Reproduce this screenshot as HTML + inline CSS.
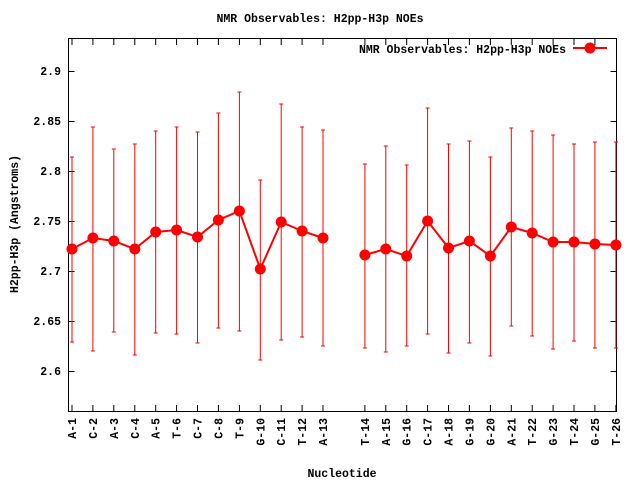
<!DOCTYPE html>
<html><head><meta charset="utf-8"><style>
html,body{margin:0;padding:0;background:#fff;}
svg text{font-family:"Liberation Mono",monospace;font-weight:bold;font-size:11.5px;fill:#000;}
</style></head><body>
<svg width="640" height="480" viewBox="0 0 640 480" xmlns="http://www.w3.org/2000/svg">
<rect x="0" y="0" width="640" height="480" fill="#fff"/>
<rect x="68.5" y="38.5" width="548" height="373" fill="none" stroke="#000" stroke-width="1"/>
<g stroke="#000" stroke-width="1">
<path d="M68.5 371.5h6M68.5 321.5h6M68.5 271.5h6M68.5 221.5h6M68.5 171.5h6M68.5 121.5h6M68.5 71.5h6M616.5 371.5h-6M616.5 321.5h-6M616.5 271.5h-6M616.5 221.5h-6M616.5 171.5h-6M616.5 121.5h-6M616.5 71.5h-6"/>
<path d="M72 411v-6M92.9 411v-6M113.8 411v-6M134.8 411v-6M155.7 411v-6M176.6 411v-6M197.5 411v-6M218.4 411v-6M239.4 411v-6M260.3 411v-6M281.2 411v-6M302.1 411v-6M323 411v-6M364.9 411v-6M385.8 411v-6M406.7 411v-6M427.6 411v-6M448.5 411v-6M469.4 411v-6M490.4 411v-6M511.3 411v-6M532.2 411v-6M553.1 411v-6M574 411v-6M594.9 411v-6M615.9 411v-6"/>
<path d="M72 39v6M92.9 39v6M113.8 39v6M134.8 39v6M155.7 39v6M176.6 39v6M197.5 39v6M218.4 39v6M239.4 39v6M260.3 39v6M281.2 39v6M302.1 39v6M323 39v6M364.9 39v6M385.8 39v6M406.7 39v6M427.6 39v6M448.5 39v6M469.4 39v6M490.4 39v6M511.3 39v6M532.2 39v6M553.1 39v6M574 39v6M594.9 39v6"/>
</g>
<g text-anchor="end">
<text x="61" y="375">2.6</text><text x="61" y="325">2.65</text><text x="61" y="275">2.7</text><text x="61" y="225">2.75</text><text x="61" y="175">2.8</text><text x="61" y="125">2.85</text><text x="61" y="75">2.9</text>
</g>
<g text-anchor="end">
<text transform="translate(76,418) rotate(-90)">A-1</text>
<text transform="translate(96.9,418) rotate(-90)">C-2</text>
<text transform="translate(117.8,418) rotate(-90)">A-3</text>
<text transform="translate(138.8,418) rotate(-90)">C-4</text>
<text transform="translate(159.7,418) rotate(-90)">A-5</text>
<text transform="translate(180.6,418) rotate(-90)">T-6</text>
<text transform="translate(201.5,418) rotate(-90)">C-7</text>
<text transform="translate(222.4,418) rotate(-90)">C-8</text>
<text transform="translate(243.4,418) rotate(-90)">T-9</text>
<text transform="translate(264.3,418) rotate(-90)">G-10</text>
<text transform="translate(285.2,418) rotate(-90)">C-11</text>
<text transform="translate(306.1,418) rotate(-90)">T-12</text>
<text transform="translate(327,418) rotate(-90)">A-13</text>
<text transform="translate(368.9,418) rotate(-90)">T-14</text>
<text transform="translate(389.8,418) rotate(-90)">A-15</text>
<text transform="translate(410.7,418) rotate(-90)">G-16</text>
<text transform="translate(431.6,418) rotate(-90)">C-17</text>
<text transform="translate(452.5,418) rotate(-90)">A-18</text>
<text transform="translate(473.4,418) rotate(-90)">G-19</text>
<text transform="translate(494.4,418) rotate(-90)">G-20</text>
<text transform="translate(515.3,418) rotate(-90)">A-21</text>
<text transform="translate(536.2,418) rotate(-90)">T-22</text>
<text transform="translate(557.1,418) rotate(-90)">G-23</text>
<text transform="translate(578,418) rotate(-90)">T-24</text>
<text transform="translate(598.9,418) rotate(-90)">G-25</text>
<text transform="translate(619.9,418) rotate(-90)">T-26</text>
</g>
<text x="320" y="22" text-anchor="middle">NMR Observables: H2pp-H3p NOEs</text>
<text x="342" y="477" text-anchor="middle">Nucleotide</text>
<text transform="translate(18,224) rotate(-90)" text-anchor="middle">H2pp-H3p (Angstroms)</text>
<text x="566" y="53" text-anchor="end">NMR Observables: H2pp-H3p NOEs</text>
<g stroke="#f00" stroke-width="1" fill="none">
<path d="M72 157V342M92.9 127V351M113.8 149V332M134.8 144V355M155.7 131V333M176.6 127V334M197.5 132V343M218.4 113V328M239.4 92V331M260.3 180V360M281.2 104V340M302.1 127V337M323 130V346M364.9 164V348M385.8 146V352M406.7 165V346M427.6 108V334M448.5 144V353M469.4 141V343M490.4 157V356M511.3 128V326M532.2 131V336M553.1 135V349M574 144V341M594.9 142V348M615.9 142V348"/>
<path d="M70 157h4M70 342h4M90.9 127h4M90.9 351h4M111.8 149h4M111.8 332h4M132.8 144h4M132.8 355h4M153.7 131h4M153.7 333h4M174.6 127h4M174.6 334h4M195.5 132h4M195.5 343h4M216.4 113h4M216.4 328h4M237.4 92h4M237.4 331h4M258.3 180h4M258.3 360h4M279.2 104h4M279.2 340h4M300.1 127h4M300.1 337h4M321 130h4M321 346h4M362.9 164h4M362.9 348h4M383.8 146h4M383.8 352h4M404.7 165h4M404.7 346h4M425.6 108h4M425.6 334h4M446.5 144h4M446.5 353h4M467.4 141h4M467.4 343h4M488.4 157h4M488.4 356h4M509.3 128h4M509.3 326h4M530.2 131h4M530.2 336h4M551.1 135h4M551.1 349h4M572 144h4M572 341h4M592.9 142h4M592.9 348h4M613.9 142h4M613.9 348h4"/>
</g>
<g stroke="#f00" stroke-width="2" fill="none">
<polyline points="72,249 92.9,238 113.8,241 134.8,249 155.7,232 176.6,230 197.5,237 218.4,220 239.4,211 260.3,269 281.2,222 302.1,231 323,238"/>
<polyline points="364.9,255 385.8,249 406.7,256 427.6,221 448.5,248 469.4,241 490.4,256 511.3,227 532.2,233 553.1,242 574,242 594.9,244 615.9,245"/>
<path d="M573 48h34"/>
</g>
<g fill="#f00">
<circle cx="72" cy="249" r="5.5"/><circle cx="92.9" cy="238" r="5.5"/><circle cx="113.8" cy="241" r="5.5"/><circle cx="134.8" cy="249" r="5.5"/><circle cx="155.7" cy="232" r="5.5"/><circle cx="176.6" cy="230" r="5.5"/><circle cx="197.5" cy="237" r="5.5"/><circle cx="218.4" cy="220" r="5.5"/><circle cx="239.4" cy="211" r="5.5"/><circle cx="260.3" cy="269" r="5.5"/><circle cx="281.2" cy="222" r="5.5"/><circle cx="302.1" cy="231" r="5.5"/><circle cx="323" cy="238" r="5.5"/>
<circle cx="364.9" cy="255" r="5.5"/><circle cx="385.8" cy="249" r="5.5"/><circle cx="406.7" cy="256" r="5.5"/><circle cx="427.6" cy="221" r="5.5"/><circle cx="448.5" cy="248" r="5.5"/><circle cx="469.4" cy="241" r="5.5"/><circle cx="490.4" cy="256" r="5.5"/><circle cx="511.3" cy="227" r="5.5"/><circle cx="532.2" cy="233" r="5.5"/><circle cx="553.1" cy="242" r="5.5"/><circle cx="574" cy="242" r="5.5"/><circle cx="594.9" cy="244" r="5.5"/><circle cx="615.9" cy="245" r="5.5"/>
<circle cx="590" cy="48" r="5.5"/>
</g>
</svg>
</body></html>
